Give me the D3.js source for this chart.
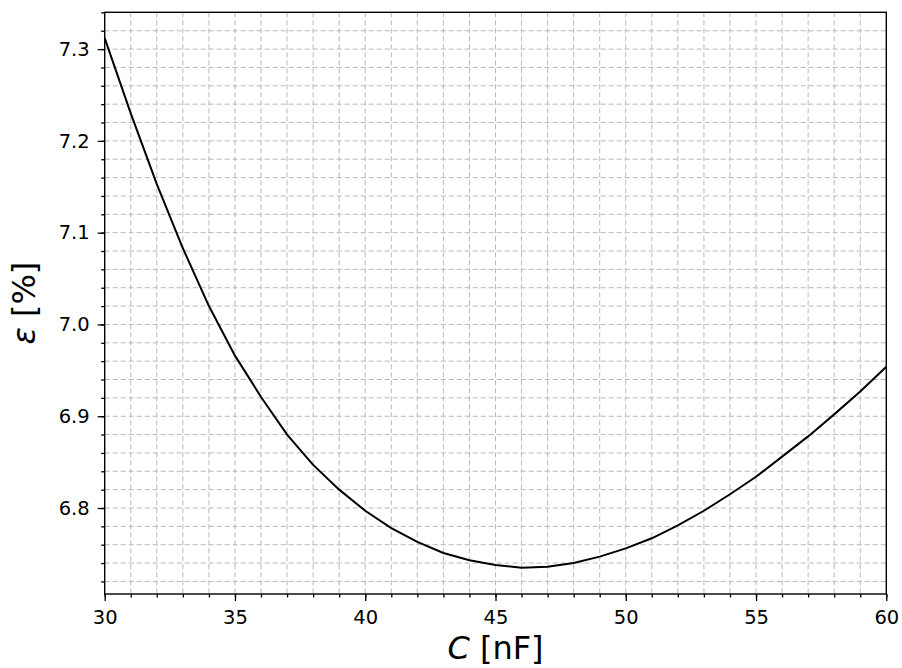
<!DOCTYPE html>
<html>
<head>
<meta charset="utf-8">
<script src="https://cdn.jsdelivr.net/npm/d3@7"></script>
<style>
  body { margin: 0; background: #fff; }
  svg { display: block; font-family: "DejaVu Sans", sans-serif; }
</style>
</head>
<body>
<div id="main"></div>
<script>
// capacitance C [nF] and error epsilon [%]
const capacitance = [30, 31, 32, 33, 34, 35, 36, 37, 38, 39, 40, 41, 42, 43, 44, 45,
  46, 47, 48, 49, 50, 51, 52, 53, 54, 55, 56, 57, 58, 59, 60]
const epsilon = [7.312, 7.230, 7.153, 7.083, 7.020, 6.966, 6.921, 6.880, 6.847, 6.820,
  6.797, 6.778, 6.763, 6.751, 6.743, 6.738, 6.735, 6.736, 6.740, 6.747, 6.756,
  6.767, 6.781, 6.797, 6.815, 6.834, 6.856, 6.878, 6.902, 6.927, 6.954]
const xTicks = [30, 35, 40, 45, 50, 55, 60]
const yTicks = [6.8, 6.9, 7.0, 7.1, 7.2, 7.3]
const xMinor = d3.range(30, 61, 1)
const yMinor = d3.range(6.72, 7.345, 0.02).map(v => +v.toFixed(2))

const width = 902, height = 668
const plotLeft = 104.7, plotRight = 886.3, plotTop = 12.3, plotBottom = 594

const svg = d3.select('div#main').append('svg')
  .attr('width', width)
  .attr('height', height)

const x = d3.scaleLinear().domain([30, 60]).range([plotLeft, plotRight])
const y = d3.scaleLinear().domain([6.7063, 7.3401]).range([plotBottom, plotTop])

// grid, major and minor alike
const grid = svg.append('g')
  .attr('stroke', '#b8b8b8')
  .attr('stroke-width', 1)
  .attr('stroke-dasharray', '5,3')

grid.selectAll('line.vx')
  .data(xMinor.filter(d => d > 30 && d < 60))
  .enter().append('line')
    .attr('class', 'vx')
    .attr('x1', d => x(d)).attr('x2', d => x(d))
    .attr('y1', plotTop).attr('y2', plotBottom)

grid.selectAll('line.hy')
  .data(yMinor.filter(d => y(d) > plotTop + 1 && y(d) < plotBottom))
  .enter().append('line')
    .attr('class', 'hy')
    .attr('x1', plotLeft).attr('x2', plotRight)
    .attr('y1', d => y(d)).attr('y2', d => y(d))

// curve
const line = d3.line()
  .x((d, i) => x(capacitance[i]))
  .y(d => y(d))

svg.append('path')
  .attr('d', line(epsilon))
  .attr('fill', 'none')
  .attr('stroke', 'black')
  .attr('stroke-width', 2)

// frame
svg.append('rect')
  .attr('x', plotLeft).attr('y', plotTop)
  .attr('width', plotRight - plotLeft).attr('height', plotBottom - plotTop)
  .attr('fill', 'none')
  .attr('stroke', 'black')
  .attr('stroke-width', 1.4)

// axes
const xAxis = svg.append('g')
  .attr('transform', `translate(0,${plotBottom})`)
  .call(d3.axisBottom(x).tickValues(xTicks).tickFormat(d3.format('d')).tickSize(7).tickSizeOuter(0).tickPadding(9))
const xMinorAxis = svg.append('g')
  .attr('transform', `translate(0,${plotBottom})`)
  .call(d3.axisBottom(x).tickValues(xMinor).tickFormat('').tickSize(3.5).tickSizeOuter(0))

const yAxis = svg.append('g')
  .attr('transform', `translate(${plotLeft},0)`)
  .call(d3.axisLeft(y).tickValues(yTicks).tickFormat(d3.format('.1f')).tickSize(7).tickSizeOuter(0).tickPadding(8))
const yMinorAxis = svg.append('g')
  .attr('transform', `translate(${plotLeft},0)`)
  .call(d3.axisLeft(y).tickValues(yMinor).tickFormat('').tickSize(3.5).tickSizeOuter(0))

;[xAxis, xMinorAxis, yAxis, yMinorAxis].forEach(g => {
  g.select('.domain').remove()
  g.selectAll('line').attr('stroke', 'black').attr('stroke-width', 1.3)
  g.selectAll('text')
    .attr('fill', 'black')
    .style('font-family', '"DejaVu Sans", sans-serif')
    .style('font-size', '19.5px')
})

// axis labels
const xLabel = svg.append('text')
  .attr('x', (plotLeft + plotRight) / 2)
  .attr('y', 659)
  .attr('text-anchor', 'middle')
  .style('font-size', '32px')
xLabel.append('tspan').style('font-style', 'italic').text('C')
xLabel.append('tspan').text(' [nF]')

const yLabel = svg.append('text')
  .attr('transform', `translate(35,${(plotTop + plotBottom) / 2}) rotate(-90)`)
  .attr('text-anchor', 'middle')
  .style('font-size', '32px')
yLabel.append('tspan').style('font-style', 'italic').text('ε')
yLabel.append('tspan').text(' [%]')
</script>
</body>
</html>
